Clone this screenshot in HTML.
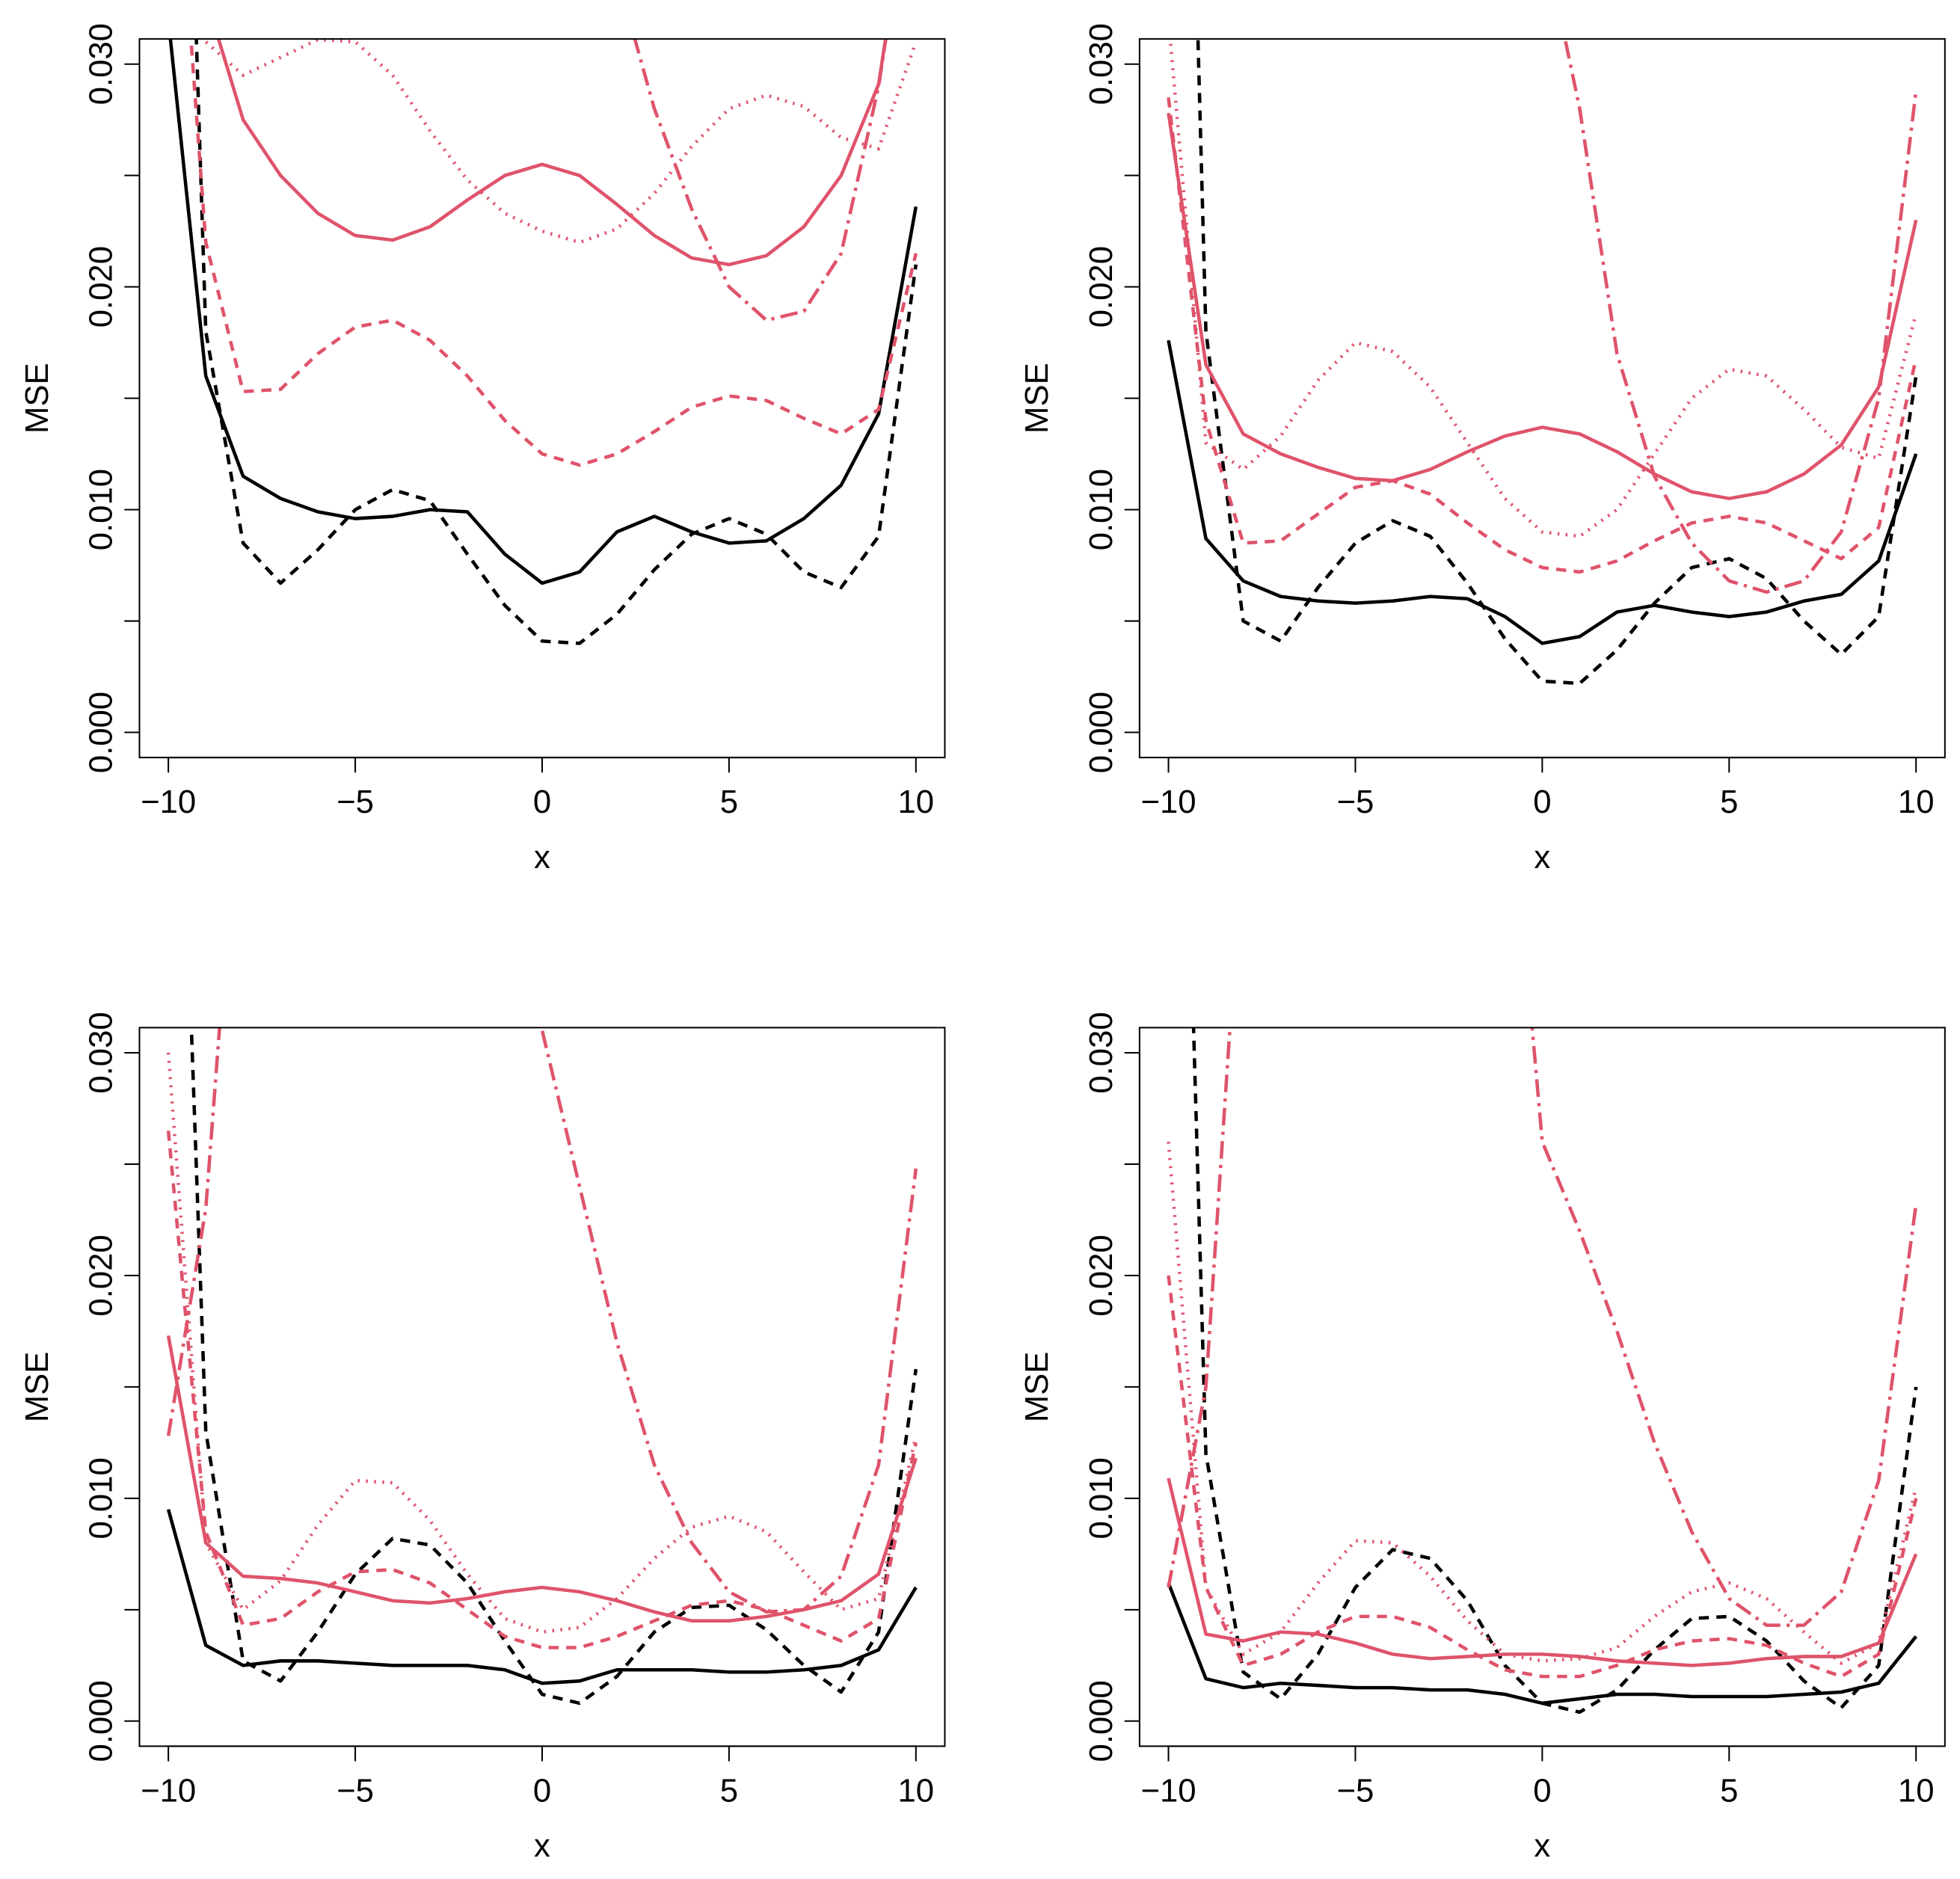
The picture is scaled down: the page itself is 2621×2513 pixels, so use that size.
<!DOCTYPE html>
<html><head><meta charset="utf-8"><style>
html,body{margin:0;padding:0;background:#fff}
svg{display:block}
text{font-family:"Liberation Sans",Arial,sans-serif;fill:#000}
</style></head><body>
<svg id="chart" width="2621" height="2513" viewBox="0 0 1560 1495.7" xmlns="http://www.w3.org/2000/svg"></svg>
<script>
const xs=[-10,-9,-8,-7,-6,-5,-4,-3,-2,-1,0,1,2,3,4,5,6,7,8,9,10];
const xTicks=[-10,-5,0,5,10];
const yTicks=[0,0.005,0.01,0.015,0.02,0.025,0.03];
const yTickLabels=["0.000","","0.010","","0.020","","0.030"];
const H=0.2;
const p1BlackSolid=[0.032,0.016,0.0115,0.0105,0.0099,0.0096,0.0097,0.0100,0.0099,0.0080,0.0067,0.0072,0.0090,0.0097,0.0090,0.0085,0.0086,0.0096,0.0111,0.0143,0.0236];
const p1BlackDashed=[0.07,0.018,0.0085,0.0067,0.0082,0.0100,0.0109,0.0104,0.0080,0.0057,0.0041,0.0040,0.0053,0.0073,0.0089,0.0096,0.0089,0.0072,0.0065,0.0088,0.0210];
const p1RedSolid=[0.05,0.033,0.0275,0.0250,0.0233,0.0223,0.0221,0.0227,0.0239,0.0250,0.0255,0.0250,0.0237,0.0223,0.0213,0.0210,0.0214,0.0227,0.0250,0.0291,0.040];
const p1RedDashed=[0.045,0.022,0.0153,0.0154,0.0170,0.0182,0.0185,0.0176,0.0160,0.0140,0.0125,0.0120,0.0125,0.0135,0.0146,0.0151,0.0149,0.0141,0.0134,0.0145,0.0215];
const p1RedDotted=[0.04,0.031,0.0295,0.0303,0.0311,0.0310,0.0295,0.0270,0.0248,0.0233,0.0225,0.0220,0.0226,0.0242,0.0263,0.0280,0.0286,0.0281,0.0267,0.0262,0.031];
const p1RedDotDash=[H,H,H,H,H,H,H,0.15,0.12,0.09,0.06,0.045,0.034,0.028,0.0235,0.0200,0.0185,0.0189,0.0215,0.0290,0.040];
const p2BlackSolid=[0.0176,0.0087,0.0068,0.0061,0.0059,0.0058,0.0059,0.0061,0.0060,0.0052,0.0040,0.0043,0.0054,0.0057,0.0054,0.0052,0.0054,0.0059,0.0062,0.0077,0.0125];
const p2BlackDashed=[0.08,0.018,0.0050,0.0041,0.0065,0.0085,0.0095,0.0088,0.0067,0.0042,0.0023,0.0022,0.0037,0.0058,0.0074,0.0078,0.0069,0.0050,0.0035,0.0052,0.0160];
const p2RedSolid=[0.0278,0.0165,0.0134,0.0125,0.0119,0.0114,0.0113,0.0118,0.0126,0.0133,0.0137,0.0134,0.0126,0.0116,0.0108,0.0105,0.0108,0.0116,0.0129,0.0155,0.0230];
const p2RedDashed=[0.0285,0.014,0.0085,0.0086,0.0098,0.0110,0.0113,0.0107,0.0094,0.0082,0.0074,0.0072,0.0077,0.0086,0.0094,0.0097,0.0094,0.0086,0.0078,0.0092,0.0168];
const p2RedDotted=[0.032,0.013,0.0118,0.0133,0.0158,0.0175,0.0171,0.0155,0.0130,0.0105,0.0090,0.0088,0.0100,0.0125,0.0150,0.0163,0.0160,0.0145,0.0128,0.0123,0.0188];
const p2RedDotDash=[H,H,H,H,H,H,H,0.12,0.09,0.06,0.036,0.028,0.017,0.0115,0.0085,0.0068,0.0063,0.0068,0.0090,0.0150,0.0288];
const p3BlackSolid=[0.0095,0.0034,0.0025,0.0027,0.0027,0.0026,0.0025,0.0025,0.0025,0.0023,0.0017,0.0018,0.0023,0.0023,0.0023,0.0022,0.0022,0.0023,0.0025,0.0032,0.0060];
const p3BlackDashed=[0.06,0.013,0.0027,0.0018,0.0040,0.0066,0.0082,0.0079,0.0062,0.0036,0.0012,0.0008,0.0020,0.0040,0.0051,0.0052,0.0041,0.0025,0.0013,0.0040,0.0158];
const p3RedSolid=[0.0173,0.0080,0.0065,0.0064,0.0062,0.0058,0.0054,0.0053,0.0055,0.0058,0.0060,0.0058,0.0054,0.0049,0.0045,0.0045,0.0047,0.0050,0.0054,0.0066,0.0118];
const p3RedDashed=[0.0265,0.0085,0.0043,0.0046,0.0058,0.0067,0.0068,0.0062,0.0050,0.0038,0.0033,0.0033,0.0038,0.0045,0.0052,0.0054,0.0050,0.0043,0.0036,0.0046,0.0125];
const p3RedDotted=[0.030,0.008,0.0050,0.0063,0.0088,0.0108,0.0107,0.0090,0.0066,0.0046,0.0040,0.0042,0.0055,0.0073,0.0087,0.0092,0.0085,0.0067,0.0050,0.0055,0.0128];
const p3RedDotDash=[0.0128,0.023,0.045,H,H,H,H,0.12,0.08,0.05,0.031,0.024,0.017,0.0115,0.0080,0.0058,0.0049,0.0050,0.0065,0.0115,0.0248];
const p4BlackSolid=[0.0062,0.0019,0.0015,0.0017,0.0016,0.0015,0.0015,0.0014,0.0014,0.0012,0.0008,0.0010,0.0012,0.0012,0.0011,0.0011,0.0011,0.0012,0.0013,0.0017,0.0038];
const p4BlackDashed=[0.07,0.012,0.0022,0.0010,0.0030,0.0060,0.0077,0.0073,0.0054,0.0025,0.0008,0.0004,0.0014,0.0032,0.0046,0.0047,0.0036,0.0018,0.0006,0.0025,0.0150];
const p4RedSolid=[0.0109,0.0039,0.0036,0.0040,0.0039,0.0035,0.0030,0.0028,0.0029,0.0030,0.0030,0.0029,0.0027,0.0026,0.0025,0.0026,0.0028,0.0029,0.0029,0.0035,0.0075];
const p4RedDashed=[0.020,0.006,0.0025,0.0030,0.0040,0.0047,0.0047,0.0042,0.0032,0.0023,0.0020,0.0020,0.0025,0.0032,0.0036,0.0037,0.0034,0.0026,0.0020,0.0030,0.0100];
const p4RedDotted=[0.026,0.006,0.0030,0.0040,0.0062,0.0081,0.0080,0.0065,0.0045,0.0030,0.0027,0.0028,0.0033,0.0047,0.0058,0.0062,0.0055,0.0040,0.0026,0.0035,0.0105];
const p4RedDotDash=[0.006,0.015,0.04,H,H,H,H,0.12,0.08,0.045,0.026,0.022,0.0175,0.0125,0.0085,0.0055,0.0043,0.0043,0.0058,0.0108,0.0232];

const RED="#DF536B";
const panels=[
 {ox:0,oy:0,s:[p1BlackSolid,p1BlackDashed,p1RedSolid,p1RedDashed,p1RedDotted,p1RedDotDash]},
 {ox:796,oy:0,s:[p2BlackSolid,p2BlackDashed,p2RedSolid,p2RedDashed,p2RedDotted,p2RedDotDash]},
 {ox:0,oy:787,s:[p3BlackSolid,p3BlackDashed,p3RedSolid,p3RedDashed,p3RedDotted,p3RedDotDash]},
 {ox:796,oy:787,s:[p4BlackSolid,p4BlackDashed,p4RedSolid,p4RedDashed,p4RedDotted,p4RedDotDash]}
];
const styles=[
 {c:"#000",d:"",n:"black-solid"},{c:"#000",d:"8 6",n:"black-dashed"},
 {c:RED,d:"",n:"red-solid"},{c:RED,d:"8 6",n:"red-dashed"},
 {c:RED,d:"1.5 5",n:"red-dotted"},{c:RED,d:"14 5 2.5 5",n:"red-dotdash"}
];
const svg=document.getElementById('chart');
const NS="http://www.w3.org/2000/svg";
function mk(t,a,p){const e=document.createElementNS(NS,t);for(const k in a)e.setAttribute(k,a[k]);p.appendChild(e);return e;}
panels.forEach((P,pi)=>{
 const g=mk('g',{},svg);
 
 
 const L=111+P.ox,R=752+P.ox,T=31+P.oy,B=603+P.oy;
 const xS=v=>134+P.ox+(v+10)/20*595;
 const yS=v=>583+P.oy-v/0.03*532;
 const cp=mk('clipPath',{id:'clip'+pi},g);
 mk('rect',{x:L,y:T,width:R-L,height:B-T},cp);
 P.s.forEach((arr,si)=>{
  const st=styles[si];
  const pts=arr.map((v,i)=>xS(xs[i]).toFixed(1)+','+yS(v).toFixed(1)).join(' ');
  const pl=mk('polyline',{points:pts,fill:'none',stroke:st.c,'stroke-width':2.7,'stroke-dasharray':st.d,'clip-path':'url(#clip'+pi+')','stroke-linejoin':'round'},g);
  
  
 });
 const box=mk('rect',{x:L,y:T,width:R-L,height:B-T,fill:'none',stroke:'#000','stroke-width':1.2},g);
 
 
 const xa=mk('g',{},g);
 
 
 mk('line',{x1:xS(-10),x2:xS(10),y1:B,y2:B,stroke:'#000','stroke-width':1.2},xa);
 xTicks.forEach(t=>{
  mk('line',{x1:xS(t),x2:xS(t),y1:B,y2:B+12,stroke:'#000','stroke-width':1.2},xa);
  const tx=mk('text',{x:xS(t),y:B+44,'text-anchor':'middle','font-size':26},xa);
  tx.textContent=t<0?'\u2212'+Math.abs(t):String(t);
  
  
 });
 const xl=mk('text',{x:xS(0),y:B+88,'text-anchor':'middle','font-size':26},g);
 xl.textContent='x';
 
 
 const ya=mk('g',{},g);
 
 
 mk('line',{x1:L,x2:L,y1:yS(0),y2:yS(0.03),stroke:'#000','stroke-width':1.2},ya);
 yTicks.forEach((t,i)=>{
  const y=yS(t);
  mk('line',{x1:L-12,x2:L,y1:y,y2:y,stroke:'#000','stroke-width':1.2},ya);
  if(yTickLabels[i]){
   const tx=mk('text',{x:L-22,y:y,'text-anchor':'middle','font-size':26,transform:'rotate(-90 '+(L-22)+' '+y+')'},ya);
   tx.textContent=yTickLabels[i];
   
   
  }
 });
 const yl=mk('text',{x:38+P.ox,y:(T+B)/2,'text-anchor':'middle','font-size':26,transform:'rotate(-90 '+(38+P.ox)+' '+((T+B)/2)+')'},g);
 yl.textContent='MSE';
 
 
});
</script>
</body></html>
